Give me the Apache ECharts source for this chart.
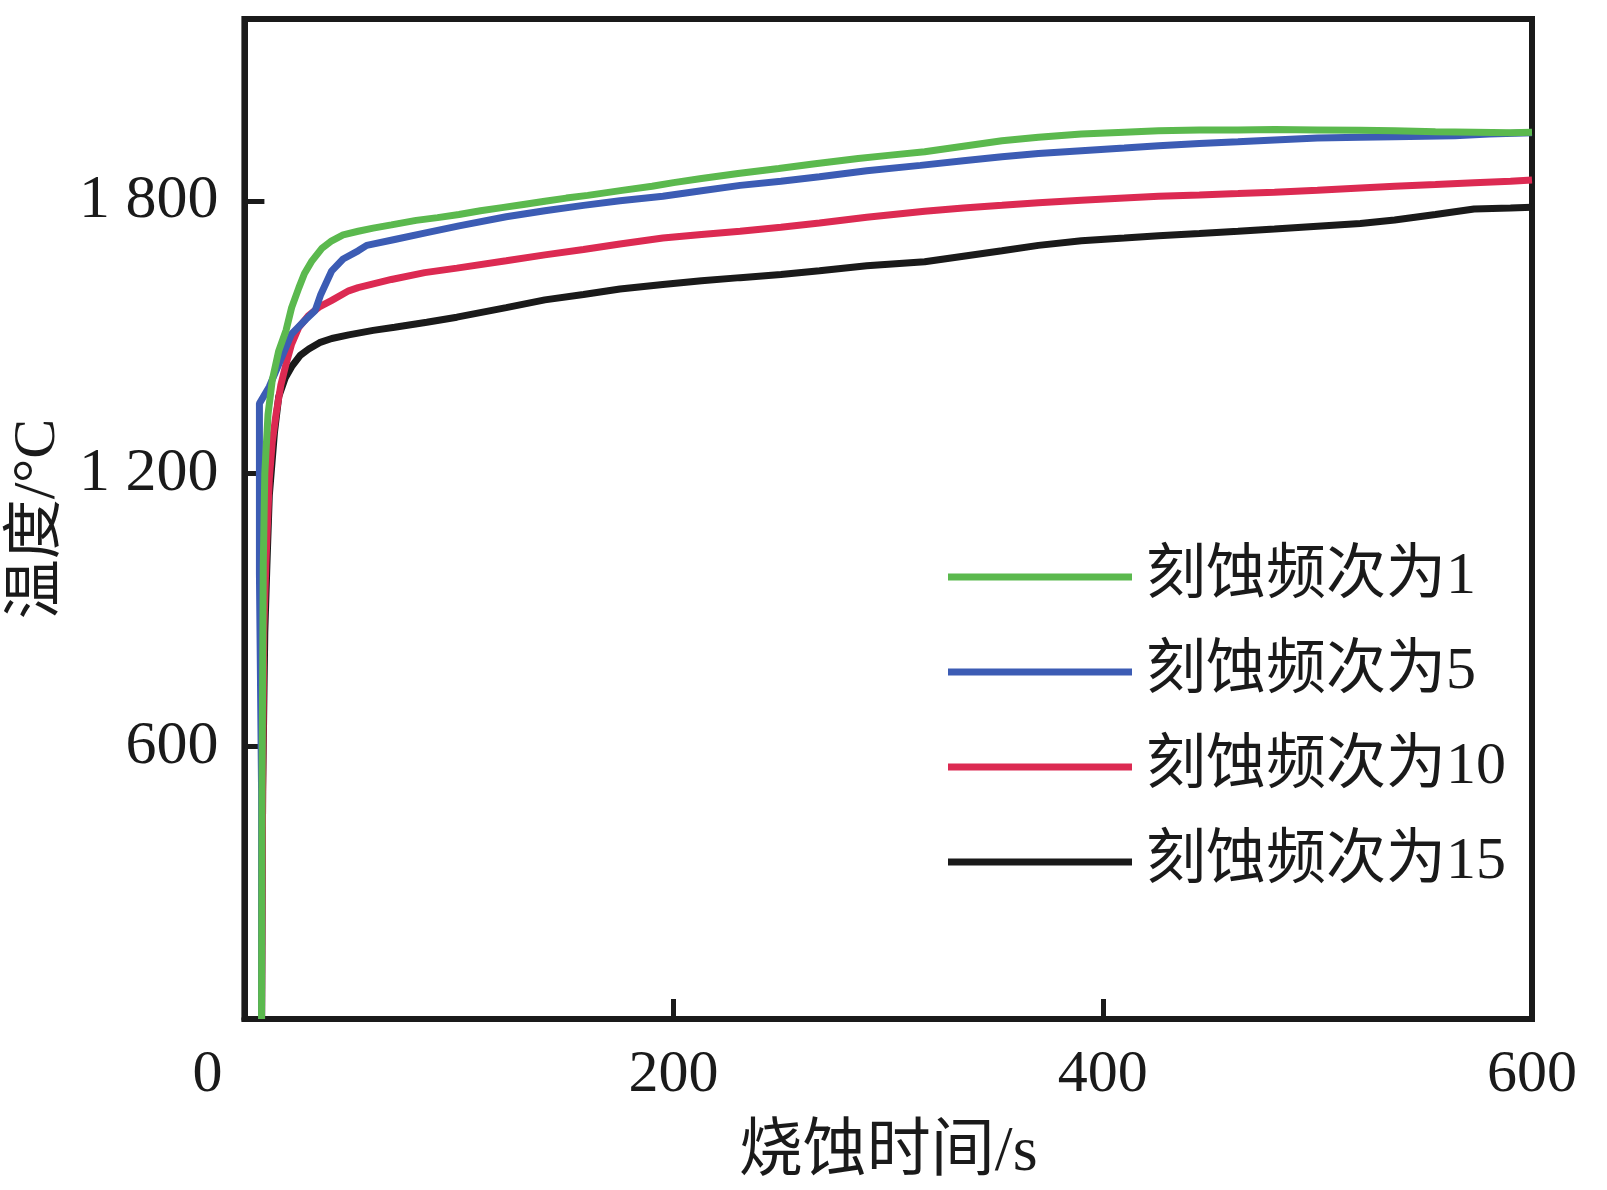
<!DOCTYPE html>
<html>
<head>
<meta charset="utf-8">
<script src="https://cdn.jsdelivr.net/npm/echarts@6/dist/echarts.min.js"></script>
<style>
  html, body { margin: 0; padding: 0; background: #fff; }
  #chart { width: 1607px; height: 1190px; }
</style>
</head>
<body>
<div id="chart"></div>
<script>
// legend names, in legend order
const seriesNames = ['刻蚀频次为1', '刻蚀频次为5', '刻蚀频次为10', '刻蚀频次为15'];
const seriesColors = ['#5bb94e', '#3c5cb4', '#dc2a52', '#1a1a1a'];

// [time s, temperature °C]
const freq1 = [
  [8, 0], [8.2, 500], [8.8, 1000], [9.5, 1200], [11, 1330], [13, 1406], [16, 1470],
  [19.4, 1515], [22, 1565], [25.4, 1609], [28, 1640], [31.5, 1668], [36, 1695],
  [40.7, 1712], [46, 1725], [53, 1733], [60, 1740], [68.5, 1747], [80, 1757],
  [90, 1763], [100, 1770], [110, 1778], [120, 1785], [130, 1792], [140, 1799],
  [150, 1806], [160, 1812], [176, 1823], [190, 1832], [200, 1840], [213, 1849],
  [230, 1860], [249, 1871], [265, 1881], [286, 1893], [300, 1900], [317, 1908],
  [335, 1920], [353, 1932], [370, 1940], [390, 1947], [410, 1951], [426, 1954],
  [445, 1956], [463, 1956], [480, 1957], [500, 1956], [520, 1955], [536, 1954],
  [555, 1952], [573, 1951], [590, 1950], [600, 1951]
];
const freq5 = [
  [8, 0], [8, 500], [7, 980], [7, 1354], [11.6, 1391], [16, 1440], [22, 1507],
  [28.6, 1539], [33, 1559], [35.6, 1594], [40.7, 1646], [46, 1672], [53, 1690],
  [57, 1702], [70, 1715], [85, 1730], [100, 1745], [122, 1765], [140, 1778],
  [158, 1790], [175, 1800], [195, 1810], [213, 1822], [231, 1834], [250, 1843],
  [268, 1853], [290, 1866], [315, 1878], [335, 1888], [353, 1897], [370, 1904],
  [390, 1910], [410, 1916], [426, 1921], [445, 1926], [463, 1930], [480, 1934],
  [500, 1938], [520, 1940], [536, 1941], [550, 1942], [564, 1943], [580, 1947],
  [600, 1950]
];
const freq10 = [
  [8, 0], [8.5, 500], [9, 850], [10, 1000], [11.6, 1188], [13, 1270], [14.8, 1332],
  [17, 1395], [19.4, 1441], [22, 1485], [25.4, 1522], [30, 1548], [34.7, 1566],
  [40.7, 1581], [48.6, 1602], [53, 1609], [68.5, 1627], [84, 1642], [99, 1652],
  [122, 1668], [140, 1681], [158, 1693], [175, 1705], [195, 1718], [213, 1726],
  [231, 1733], [250, 1742], [268, 1751], [290, 1764], [317, 1777], [335, 1784],
  [353, 1790], [370, 1796], [390, 1801], [410, 1806], [426, 1810], [445, 1813],
  [463, 1816], [480, 1819], [500, 1823], [520, 1828], [536, 1832], [555, 1836],
  [573, 1840], [590, 1843], [600, 1846]
];
const freq15 = [
  [8, 0], [8.5, 500], [9.5, 850], [10.5, 1000], [11.6, 1151], [14, 1290], [16, 1369],
  [19, 1410], [22, 1435], [26, 1460], [30, 1474], [35, 1488], [40.7, 1497],
  [48.6, 1505], [60, 1515], [70, 1522], [85, 1533], [99, 1544], [122, 1565],
  [140, 1582], [158, 1594], [175, 1606], [195, 1616], [213, 1624], [231, 1631],
  [250, 1638], [268, 1646], [290, 1657], [317, 1666], [335, 1678], [353, 1690],
  [370, 1702], [390, 1712], [410, 1718], [426, 1723], [445, 1728], [463, 1733],
  [480, 1738], [500, 1744], [520, 1750], [536, 1758], [555, 1770], [573, 1782],
  [590, 1784], [600, 1786]
];

const xTicks = { min: 0, max: 600, interval: 200 };
const yTicks = { min: 0, max: 2200, interval: 600 };

const serif = '"Liberation Serif", "Noto Sans CJK SC", serif';
const ink = '#1a1a1a';

const chart = echarts.init(document.getElementById('chart'));

const seriesData = [freq1, freq5, freq10, freq15];
// draw green last so it sits on top like in the figure
const drawOrder = [3, 2, 1, 0];

chart.setOption({
  animation: false,
  grid: {
    left: 235,
    right: 75,
    top: 19,
    bottom: 162,
    show: true,
    borderColor: ink,
    borderWidth: 6
  },
  legend: {
    data: seriesNames,
    orient: 'vertical',
    left: 943,
    top: 542,
    itemWidth: 184,
    itemHeight: 7,
    itemGap: 35,
    icon: 'rect',
    textStyle: {
      fontFamily: serif,
      fontSize: 60,
      lineHeight: 60,
      color: ink,
      padding: [0, 0, 0, 9]
    }
  },
  xAxis: {
    type: 'value',
    min: xTicks.min,
    max: xTicks.max,
    interval: xTicks.interval,
    name: '烧蚀时间/s',
    nameLocation: 'middle',
    nameGap: 102,
    nameTextStyle: { fontFamily: serif, fontSize: 64, color: ink },
    axisLine: { show: true, lineStyle: { color: ink, width: 6 } },
    axisTick: { show: true, inside: true, length: 20, lineStyle: { color: ink, width: 5 } },
    splitLine: { show: false },
    axisLabel: {
      fontFamily: serif,
      fontSize: 60,
      color: ink,
      margin: 26,
      formatter: v => (v === 0 ? '{z|0}' : String(v)),
      rich: { z: { fontFamily: serif, fontSize: 60, color: ink, padding: [0, 74, 0, 0] } }
    }
  },
  yAxis: {
    type: 'value',
    min: yTicks.min,
    max: yTicks.max,
    interval: yTicks.interval,
    name: '温度/°C',
    nameLocation: 'middle',
    nameGap: 175,
    nameTextStyle: { fontFamily: serif, fontSize: 60, color: ink },
    axisLine: { show: true, lineStyle: { color: ink, width: 6 } },
    axisTick: { show: true, inside: true, length: 20, lineStyle: { color: ink, width: 5 } },
    splitLine: { show: false },
    axisLabel: {
      fontFamily: serif,
      fontSize: 62,
      color: ink,
      margin: 26,
      showMaxLabel: false,
      formatter: v => {
        if (v === 0 || v === yTicks.max) return '';
        if (v >= 1000) return Math.floor(v / 1000) + ' ' + String(v % 1000).padStart(3, '0');
        return String(v);
      }
    }
  },
  series: drawOrder.map(i => ({
    name: seriesNames[i],
    type: 'line',
    data: seriesData[i],
    showSymbol: false,
    symbol: 'none',
    color: seriesColors[i],
    lineStyle: { color: seriesColors[i], width: 7 }
  }))
});
</script>
</body>
</html>
